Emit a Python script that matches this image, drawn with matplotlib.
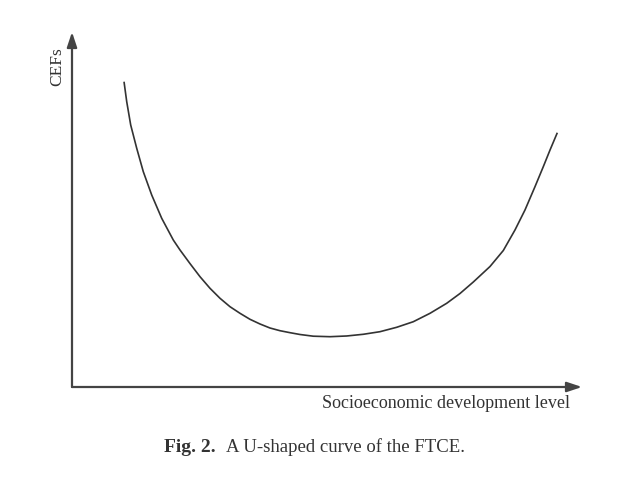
import matplotlib.pyplot as plt

# development level (0-100) vs CEFs (0-100)
dev_level = [10.20, 10.73, 11.51, 12.69, 13.98, 15.63, 17.59, 19.86, 21.18, 23.14,
             25.10, 27.06, 29.02, 30.98, 32.94, 34.90, 36.86, 38.82, 40.78, 42.75,
             44.71, 47.31, 50.59, 53.86, 57.12, 60.39, 63.67, 66.92, 70.20, 73.47,
             76.08, 78.69, 81.96, 84.57, 86.86, 88.82, 90.78, 92.41, 93.73, 95.16]
cefs = [86.00, 80.37, 73.80, 67.24, 60.65, 54.08, 47.52, 41.41, 38.59, 34.76,
        31.07, 27.80, 24.99, 22.62, 20.76, 19.07, 17.75, 16.62, 15.86, 15.30,
        14.79, 14.31, 14.17, 14.37, 14.85, 15.58, 16.82, 18.39, 20.76, 23.58,
        26.34, 29.58, 33.94, 38.45, 44.23, 49.86, 56.42, 62.06, 66.76, 71.63]

x_label = "Socioeconomic development level"
y_label = "CEFs"
caption_bold = "Fig. 2."
caption_text = "A U-shaped curve of the FTCE."

W, H = 630, 484
plt.rcParams['font.family'] = ['Liberation Serif', 'DejaVu Serif']

fig = plt.figure(figsize=(W / 100, H / 100), dpi=100)
ax = fig.add_axes([72 / W, (H - 387) / H, (582 - 72) / W, (387 - 32) / H])
ax.set_xlim(0, 100)
ax.set_ylim(0, 100)
ax.axis('off')

ax.plot(dev_level, cefs, color='#333333', lw=1.2,
        solid_capstyle='butt', solid_joinstyle='round')

arrow = dict(arrowstyle='-|>,head_length=0.9,head_width=0.3', color='#444444',
             lw=1.6, shrinkA=0, shrinkB=0)
ax.annotate('', xy=(100, 0), xytext=(0, 0), arrowprops=arrow, annotation_clip=False)
ax.annotate('', xy=(0, 100), xytext=(0, 0), arrowprops=arrow, annotation_clip=False)

fig.text(446.5 / W, 1 - 404 / H, x_label, ha='center', va='center',
         fontsize=13, color='#333333')
fig.text(57 / W, 1 - 67 / H, y_label, ha='center', va='center', rotation=90,
         fontsize=12.5, color='#333333')

fig.text(164 / W, 1 - 447 / H, caption_bold, ha='left', va='center',
         fontsize=14, fontweight='bold', color='#333333')
fig.text(226 / W, 1 - 447 / H, caption_text, ha='left', va='center',
         fontsize=13.5, color='#333333')

fig.savefig('out.png', dpi=100)
